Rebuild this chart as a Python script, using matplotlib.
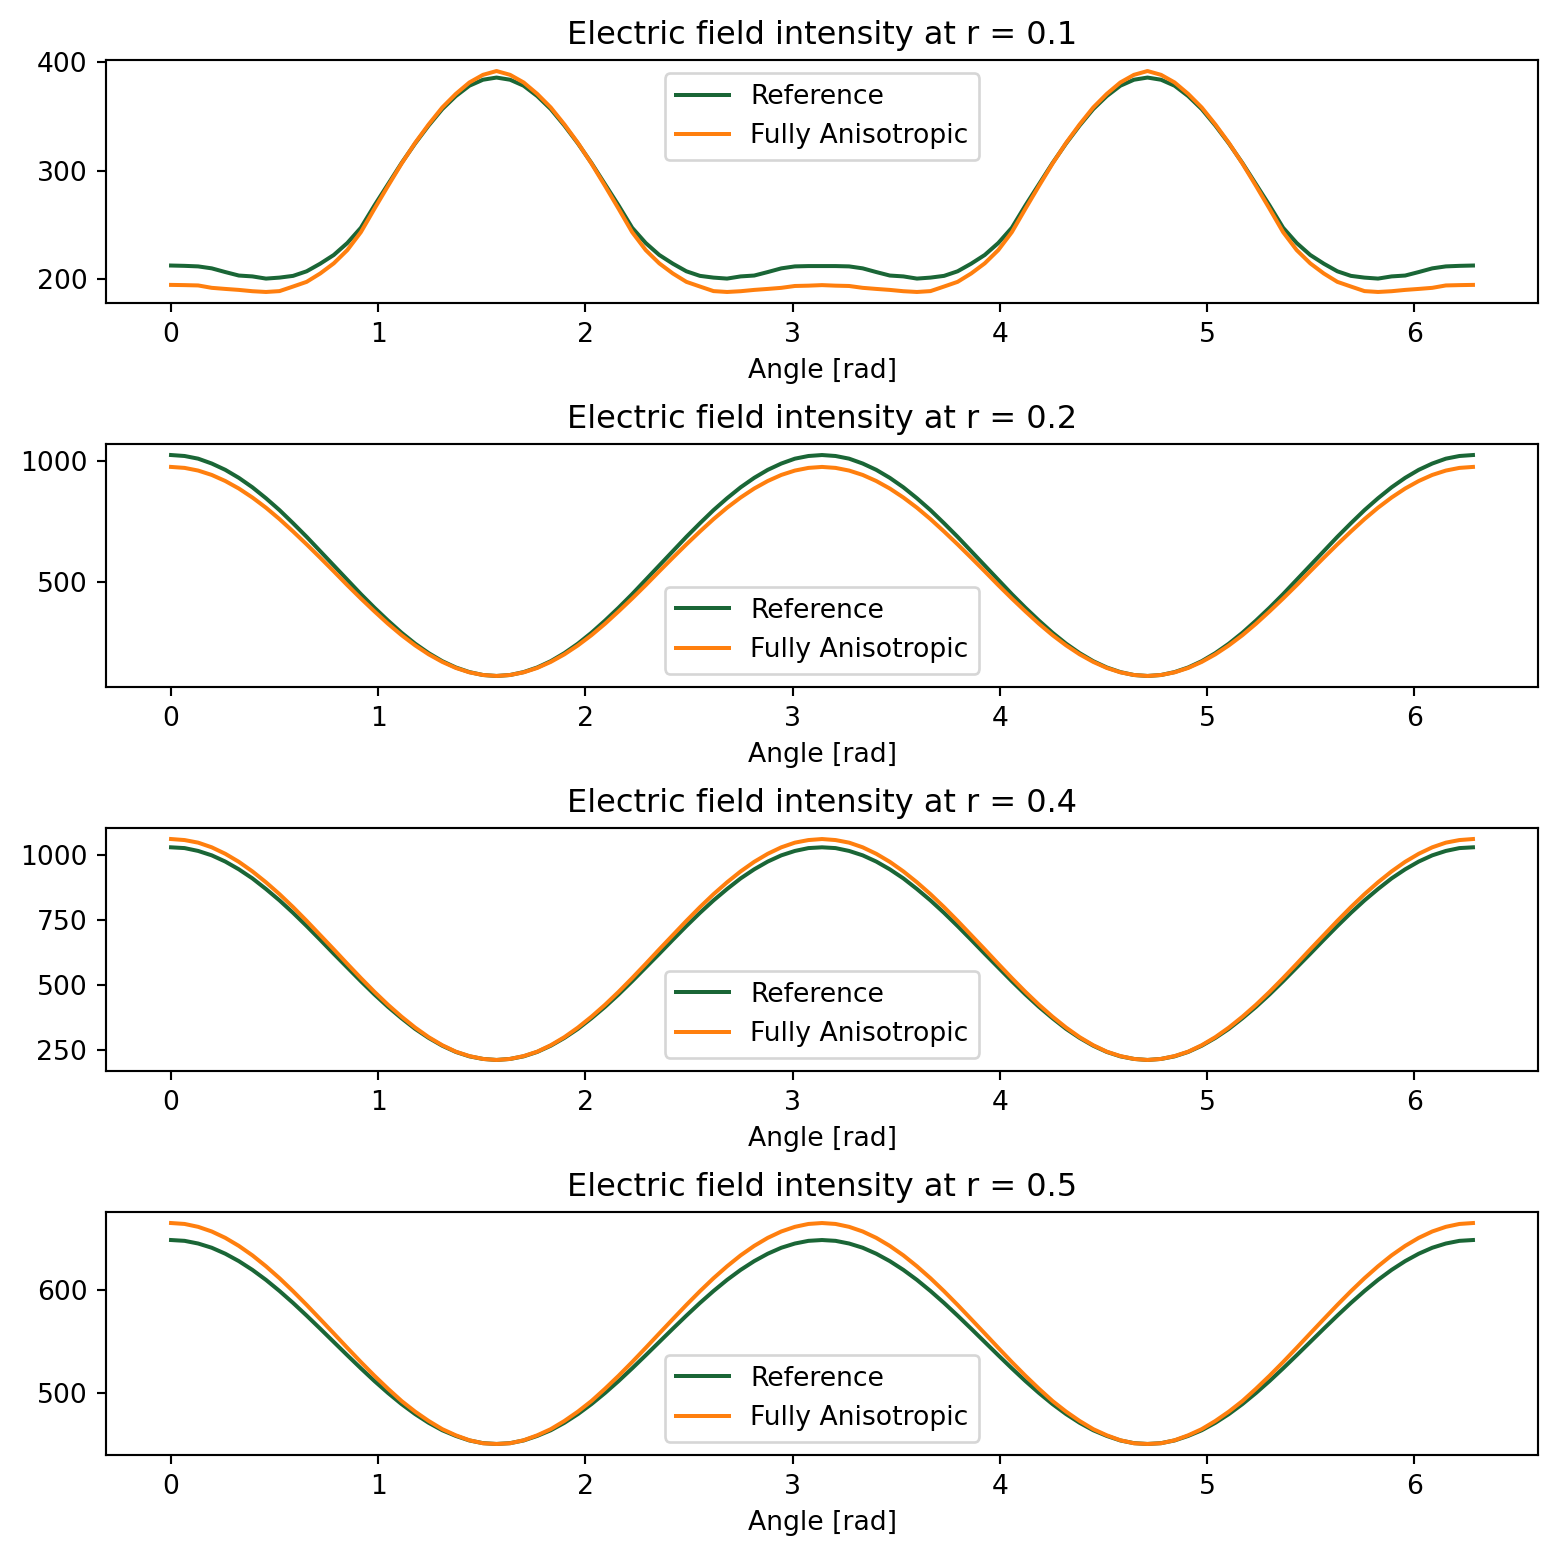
import numpy as np
import matplotlib
matplotlib.use("Agg")
import matplotlib.pyplot as plt

# Angle grid (97 samples over one full turn)
angle = np.linspace(0, 2 * np.pi, 97)

radii = [0.1, 0.2, 0.4, 0.5]

ref_r01 = [212.8, 212.5, 212.0, 210.2, 206.8, 203.6, 202.8, 200.8, 201.7, 203.3, 207.5, 214.5, 222.5, 233.5, 247.5, 268.0, 287.5, 307.0, 325.0, 341.5, 356.5, 368.5, 378.0, 383.5, 385.5,
           383.5, 378.0, 368.5, 356.5, 341.5, 325.0, 307.0, 287.5, 268.0, 247.5, 233.5, 222.5, 214.5, 207.5, 203.3, 201.7, 200.8, 202.8, 203.6, 206.8, 210.2, 212.0, 212.3, 212.3,
           212.3, 212.0, 210.2, 206.8, 203.6, 202.8, 200.8, 201.7, 203.3, 207.5, 214.5, 222.5, 233.5, 247.5, 268.0, 287.5, 307.0, 325.0, 341.5, 356.5, 368.5, 378.0, 383.5, 385.5,
           383.5, 378.0, 368.5, 356.5, 341.5, 325.0, 307.0, 287.5, 268.0, 247.5, 233.5, 222.5, 214.5, 207.5, 203.3, 201.7, 200.8, 202.8, 203.6, 206.8, 210.2, 212.0, 212.5, 212.8]
ani_r01 = [195.0, 194.8, 194.5, 192.3, 191.3, 190.4, 189.2, 188.5, 189.3, 193.5, 197.8, 205.5, 214.8, 227.0, 243.5, 265.0, 286.0, 306.5, 325.5, 342.5, 358.0, 370.5, 381.0, 388.0, 391.5,
           388.0, 381.0, 370.5, 358.0, 342.5, 325.5, 306.5, 286.0, 265.0, 243.5, 227.0, 214.8, 205.5, 197.8, 193.5, 189.3, 188.5, 189.2, 190.4, 191.3, 192.3, 194.0, 194.3, 194.8,
           194.3, 194.0, 192.3, 191.3, 190.4, 189.2, 188.5, 189.3, 193.5, 197.8, 205.5, 214.8, 227.0, 243.5, 265.0, 286.0, 306.5, 325.5, 342.5, 358.0, 370.5, 381.0, 388.0, 391.5,
           388.0, 381.0, 370.5, 358.0, 342.5, 325.5, 306.5, 286.0, 265.0, 243.5, 227.0, 214.8, 205.5, 197.8, 193.5, 189.3, 188.5, 189.2, 190.4, 191.3, 192.3, 194.5, 194.8, 195.0]

ref_r02 = [1025, 1021, 1010, 990, 964, 931, 892, 847, 798, 744, 688, 629, 570, 511, 452, 396, 343, 293, 248, 209, 176, 150, 131, 119, 115,
           119, 131, 150, 176, 209, 248, 293, 343, 396, 452, 511, 570, 629, 688, 744, 798, 847, 892, 931, 964, 990, 1010, 1021, 1025,
           1021, 1010, 990, 964, 931, 892, 847, 798, 744, 688, 629, 570, 511, 452, 396, 343, 293, 248, 209, 176, 150, 131, 119, 115,
           119, 131, 150, 176, 209, 248, 293, 343, 396, 452, 511, 570, 629, 688, 744, 798, 847, 892, 931, 964, 990, 1010, 1021, 1025]
ani_r02 = [976, 972, 961, 943, 918, 887, 850, 808, 761, 710, 657, 602, 546, 489, 434, 381, 330, 283, 241, 204, 173, 148, 130, 119, 115,
           119, 130, 148, 173, 204, 241, 283, 330, 381, 434, 489, 546, 602, 657, 710, 761, 808, 850, 887, 918, 943, 961, 972, 976,
           972, 961, 943, 918, 887, 850, 808, 761, 710, 657, 602, 546, 489, 434, 381, 330, 283, 241, 204, 173, 148, 130, 119, 115,
           119, 130, 148, 173, 204, 241, 283, 330, 381, 434, 489, 546, 602, 657, 710, 761, 808, 850, 887, 918, 943, 961, 972, 976]

ref_r04 = [1031, 1028, 1017, 1000, 976, 946, 911, 870, 826, 778, 727, 674, 620, 567, 514, 463, 415, 371, 330, 295, 265, 241, 224, 214, 210,
           214, 224, 241, 265, 295, 330, 371, 415, 463, 514, 567, 620, 674, 727, 778, 826, 870, 911, 946, 976, 1000, 1017, 1028, 1031,
           1028, 1017, 1000, 976, 946, 911, 870, 826, 778, 727, 674, 620, 567, 514, 463, 415, 371, 330, 295, 265, 241, 224, 214, 210,
           214, 224, 241, 265, 295, 330, 371, 415, 463, 514, 567, 620, 674, 727, 778, 826, 870, 911, 946, 976, 1000, 1017, 1028, 1031]
ani_r04 = [1063, 1059, 1049, 1031, 1006, 975, 938, 896, 850, 800, 747, 692, 637, 581, 526, 473, 423, 377, 335, 298, 267, 242, 225, 214, 210,
           214, 225, 242, 267, 298, 335, 377, 423, 473, 526, 581, 637, 692, 747, 800, 850, 896, 938, 975, 1006, 1031, 1049, 1059, 1063,
           1059, 1049, 1031, 1006, 975, 938, 896, 850, 800, 747, 692, 637, 581, 526, 473, 423, 377, 335, 298, 267, 242, 225, 214, 210,
           214, 225, 242, 267, 298, 335, 377, 423, 473, 526, 581, 637, 692, 747, 800, 850, 896, 938, 975, 1006, 1031, 1049, 1059, 1063]

ref_r05 = [649.0, 648.2, 645.6, 641.5, 635.7, 628.5, 620.0, 610.3, 599.5, 587.9, 575.6, 562.9, 550.0, 537.1, 524.4, 512.1, 500.5, 489.7, 480.0, 471.5, 464.3, 458.8, 454.4, 451.8, 451.0,
           451.8, 454.4, 458.8, 464.3, 471.5, 480.0, 489.7, 500.5, 512.1, 524.4, 537.1, 550.0, 562.9, 575.6, 587.9, 599.5, 610.3, 620.0, 628.5, 635.7, 641.5, 645.6, 648.2, 649.0,
           648.2, 645.6, 641.5, 635.7, 628.5, 620.0, 610.3, 599.5, 587.9, 575.6, 562.9, 550.0, 537.1, 524.4, 512.1, 500.5, 489.7, 480.0, 471.5, 464.3, 458.8, 454.4, 451.8, 451.0,
           451.8, 454.4, 458.8, 464.3, 471.5, 480.0, 489.7, 500.5, 512.1, 524.4, 537.1, 550.0, 562.9, 575.6, 587.9, 599.5, 610.3, 620.0, 628.5, 635.7, 641.5, 645.6, 648.2, 649.0]
ani_r05 = [665.5, 664.6, 661.8, 657.3, 651.1, 643.3, 634.1, 623.5, 611.9, 599.3, 586.0, 572.2, 558.3, 544.3, 530.5, 517.2, 504.6, 492.7, 482.4, 473.3, 465.4, 459.4, 454.6, 451.7, 451.0,
           451.7, 454.6, 459.4, 465.4, 473.3, 482.4, 492.7, 504.6, 517.2, 530.5, 544.3, 558.3, 572.2, 586.0, 599.3, 611.9, 623.5, 634.1, 643.3, 651.1, 657.3, 661.8, 664.6, 665.5,
           664.6, 661.8, 657.3, 651.1, 643.3, 634.1, 623.5, 611.9, 599.3, 586.0, 572.2, 558.3, 544.3, 530.5, 517.2, 504.6, 492.7, 482.4, 473.3, 465.4, 459.4, 454.6, 451.7, 451.0,
           451.7, 454.6, 459.4, 465.4, 473.3, 482.4, 492.7, 504.6, 517.2, 530.5, 544.3, 558.3, 572.2, 586.0, 599.3, 611.9, 623.5, 634.1, 643.3, 651.1, 657.3, 661.8, 664.6, 665.5]

reference = [ref_r01, ref_r02, ref_r04, ref_r05]
anisotropic = [ani_r01, ani_r02, ani_r04, ani_r05]
legend_locs = ["upper center", "lower center", "lower center", "lower center"]

GREEN = "#1a6636"
ORANGE = "#ff7f0e"

DPI = 192
fig, axes = plt.subplots(4, 1, figsize=(1558 / DPI, 1558 / DPI), dpi=DPI)
fig.subplots_adjust(left=0.068, right=0.9872, top=0.9615, bottom=0.0661, hspace=0.58)

for ax, r, ref, ani, loc in zip(axes, radii, reference, anisotropic, legend_locs):
    ax.plot(angle, ref, color=GREEN, label="Reference")
    ax.plot(angle, ani, color=ORANGE, label="Fully Anisotropic")
    ax.set_title(f"Electric field intensity at r = {r}")
    ax.set_xlabel("Angle [rad]")
    ax.legend(loc=loc)

axes[0].set_yticks([200, 300, 400])
axes[1].set_yticks([500, 1000])
axes[2].set_yticks([250, 500, 750, 1000])
axes[3].set_yticks([500, 600])

fig.savefig("out.png", dpi=DPI)
